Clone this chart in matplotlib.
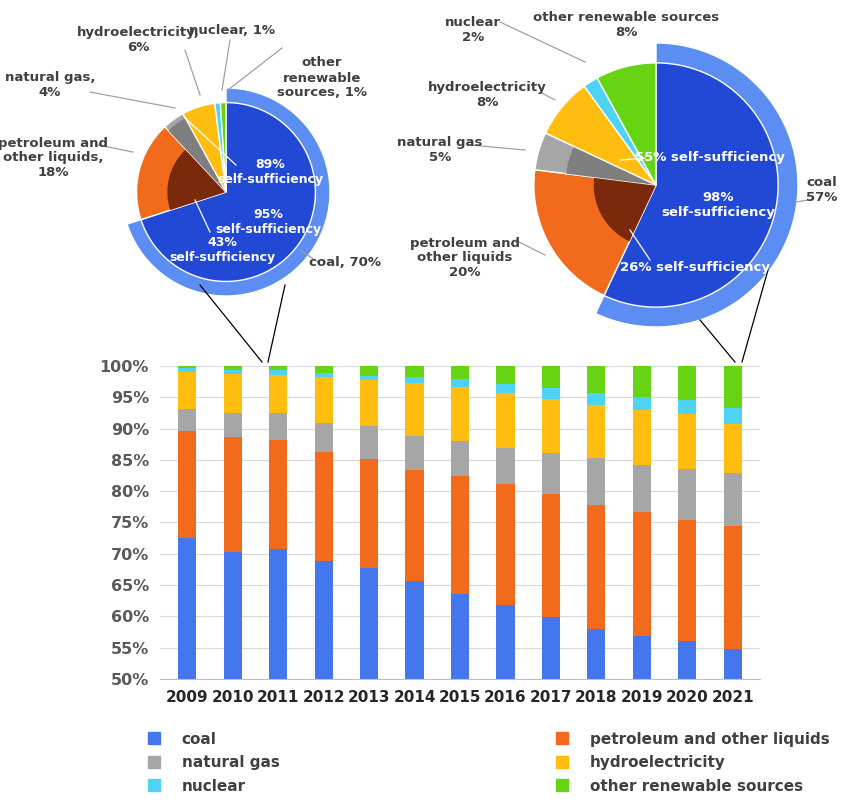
import matplotlib
matplotlib.use("Agg")
import matplotlib.pyplot as plt
import numpy as np
from matplotlib.patches import Wedge
from matplotlib.lines import Line2D

years = ["2009","2010","2011","2012","2013","2014","2015","2016","2017","2018","2019","2020","2021"]
coal = [72.5,70.3,70.8,68.8,67.7,65.7,63.6,61.8,59.9,58.0,56.9,56.1,54.8]
petroleum = [17.1,18.4,17.4,17.5,17.4,17.7,18.8,19.4,19.7,19.8,19.8,19.3,19.6]
natural_gas = [3.5,3.8,4.3,4.6,5.3,5.4,5.6,5.7,6.5,7.5,7.5,8.1,8.5]
hydro = [5.9,6.2,6.1,7.3,7.4,8.5,8.6,8.8,8.6,8.5,8.8,8.8,7.8]
nuclear = [0.7,0.7,0.8,0.7,0.6,0.9,1.3,1.4,1.8,1.9,2.0,2.3,2.6]
other = [0.3,0.6,0.6,1.1,1.6,1.8,2.1,2.9,3.5,4.3,5.0,5.4,6.7]
series_names = ["coal","petroleum and other liquids","natural gas","hydroelectricity","nuclear","other renewable sources"]
colors = ["#4477EE","#F26A1C","#A6A6A6","#FFBE0F","#4FD3F5","#66D412"]

pie_left = [70,18,4,6,1,1]
pie_right = [57,20,5,8,2,8]
ss_left = {"coal":95,"petroleum":43,"gas":89}
ss_right = {"coal":98,"petroleum":26,"gas":55}

W,H = 850,806
fig = plt.figure(figsize=(8.5,8.06),dpi=100)
def P(x,y): return (x/W, 1-y/H)
txtc = "#404040"

ax = fig.add_axes([160/W, 1-679/H, 600/W, 313/H])
x = np.arange(len(years))
bottom = np.zeros(len(years))
for vals,c,n in zip([coal,petroleum,natural_gas,hydro,nuclear,other],colors,series_names):
    ax.bar(x,vals,0.4,bottom=bottom,color=c,label=n)
    bottom += np.array(vals)
ax.set_ylim(50,100)
ax.set_xlim(-0.6,len(years)-0.4)
ax.set_yticks(range(50,101,5))
ax.set_yticklabels([f"{v}%" for v in range(50,101,5)],fontsize=11.5,fontweight="bold",color="#595959")
ax.set_xticks(x)
ax.set_xticklabels(years,fontsize=11,fontweight="bold",color="#262626")
ax.yaxis.grid(True,color="#D9D9D9",lw=0.8)
ax.set_axisbelow(True)
for s in ["top","right","left"]: ax.spines[s].set_visible(False)
ax.spines["bottom"].set_color("#BFBFBF")
ax.tick_params(length=0, pad=8)

handles=[Line2D([],[],marker="s",ls="",color=c,markersize=8) for c in colors]
order=[0,2,4,1,3,5]
fig.legend([handles[i] for i in order],[series_names[i] for i in order],ncol=2,
           loc="upper left",bbox_to_anchor=(125/W,1-718/H),frameon=False,
           prop={"size":11,"weight":"bold"},labelcolor="#404040",
           columnspacing=17.5,handletextpad=0.8,labelspacing=0.55)

def draw_pie(cx,cy,r,vals,ss):
    a = fig.add_axes([(cx-r)/W,1-(cy+r)/H,2*r/W,2*r/H])
    a.set_xlim(-1,1); a.set_ylim(-1,1); a.set_aspect("equal"); a.axis("off")
    tot=sum(vals); ang=90
    for i,(v,c) in enumerate(zip(vals,colors)):
        span=360*v/tot; t1,t2=ang-span,ang
        if i==0:
            a.add_patch(Wedge((0,0),1.0,t1,t2,color="#5C8DF2",ec="white",lw=1))
            a.add_patch(Wedge((0,0),0.86,t1,t2,color="#2248D6",ec="white",lw=1))
        else:
            a.add_patch(Wedge((0,0),0.86,t1,t2,facecolor=c,ec="white",lw=1))
            if i==1:
                a.add_patch(Wedge((0,0),0.86*np.sqrt(ss["petroleum"]/100),t1,t2,facecolor="#7A2A0A",ec="none"))
            if i==2:
                a.add_patch(Wedge((0,0),0.86*np.sqrt(ss["gas"]/100),t1,t2,facecolor="#7F7F7F",ec="none"))
        ang=t1
    return a

draw_pie(226,192,104,pie_left,ss_left)
draw_pie(656,185,142,pie_right,ss_right)

def T(x,y,s,**k):
    d=dict(fontsize=9.5,fontweight="bold",color=txtc,ha="center",va="center")
    d.update(k); fig.text(*P(x,y),s,**d)
def L(pts,c="#A0A0A0"):
    xs=[p[0]/W for p in pts]; ys=[1-p[1]/H for p in pts]
    fig.add_artist(Line2D(xs,ys,color=c,lw=0.9,transform=fig.transFigure))

T(50,85,"natural gas,\n4%"); L([(90,92),(175,108)])
T(138,40,"hydroelectricity,\n6%"); L([(185,50),(200,95)])
T(232,30,"nuclear, 1%"); L([(230,40),(222,90)])
T(322,78,"other\nrenewable\nsources, 1%"); L([(282,48),(228,90)])
T(53,158,"petroleum and\nother liquids,\n18%"); L([(98,145),(133,152)])
T(345,262,"coal, 70%"); L([(318,262),(300,250)])
T(270,172,"89%\nself-sufficiency",color="white",fontsize=9); L([(185,118),(236,165)],"white")
T(268,222,"95%\nself-sufficiency",color="white",fontsize=9)
T(222,250,"43%\nself-sufficiency",color="white",fontsize=9); L([(210,232),(195,200)],"white")

T(473,30,"nuclear\n2%"); L([(500,22),(585,62)])
T(626,25,"other renewable sources\n8%")
T(487,95,"hydroelectricity\n8%"); L([(540,92),(555,100)])
T(440,150,"natural gas\n5%"); L([(470,145),(525,150)])
T(465,258,"petroleum and\nother liquids\n20%"); L([(515,240),(545,255)])
T(822,190,"coal\n57%"); L([(808,200),(796,202)])
T(710,158,"55% self-sufficiency",color="white",fontsize=9.5); L([(620,160),(645,158)],"white")
T(718,205,"98%\nself-sufficiency",color="white",fontsize=9.5)
T(695,267,"26% self-sufficiency",color="white",fontsize=9.5); L([(630,230),(650,260)],"white")

L([(200,285),(262,362)],"black"); L([(285,285),(268,362)],"black")
L([(700,320),(735,362)],"black"); L([(768,270),(742,362)],"black")

fig.savefig("out.png",dpi=100,facecolor="white")
